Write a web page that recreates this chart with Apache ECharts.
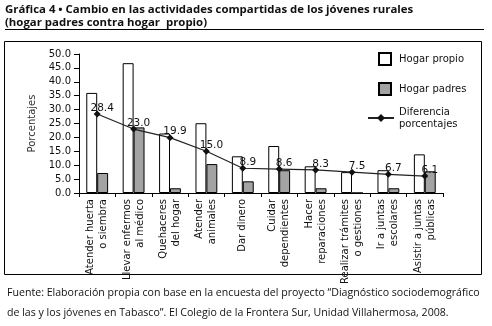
<!DOCTYPE html>
<html><head><meta charset="utf-8">
<script src="https://cdn.jsdelivr.net/npm/echarts@6/dist/echarts.min.js"></script>
<style>html,body{margin:0;padding:0;background:#fff}#c{width:492px;height:326px}</style>
</head><body><div id="c"></div>
<script>
var categories = ["Atender huerta\no siembra","Llevar enfermos\nal médico","Quehaceres\ndel hogar","Atender\nanimales","Dar dinero","Cuidar\ndependientes","Hacer\nreparaciones","Realizar trámites\no gestiones","Ir a juntas\nescolares","Asistir a juntas\npúblicas"];
var hogarPropio = [36.0, 46.7, 21.4, 25.1, 13.2, 16.9, 9.6, 7.5, 8.2, 13.9];
var hogarPadres = [7.2, 23.6, 1.7, 10.4, 4.2, 8.2, 1.7, 0, 1.7, 7.8];
var diferencia = [28.4, 23.0, 19.9, 15.0, 8.9, 8.6, 8.3, 7.5, 6.7, 6.1];
var yTicks = {min: 0, max: 50, interval: 5};

var chart = echarts.init(document.getElementById('c'), null, {renderer: 'canvas'});
var F = 'DejaVu Sans';
chart.setOption({
  animation: false,
  backgroundColor: '#fff',
  graphic: [
    {type: 'text', left: 5, top: 3, style: {text: 'Gráfica 4 • Cambio en las actividades compartidas de los jóvenes rurales\n(hogar padres contra hogar  propio)', font: 'bold 11.4px "Open Sans"', fill: '#111', lineHeight: 13}},
    {type: 'line', shape: {x1: 5, y1: 29.5, x2: 484, y2: 29.5}, style: {stroke: '#000', lineWidth: 1}},
    {type: 'rect', shape: {x: 4.5, y: 41.5, width: 477, height: 233}, style: {fill: 'none', stroke: '#000', lineWidth: 1}},
    {type: 'text', left: 7, top: 283, style: {text: 'Fuente: Elaboración propia con base en la encuesta del proyecto “Diagnóstico sociodemográfico\nde las y los jóvenes en Tabasco”. El Colegio de la Frontera Sur, Unidad Villahermosa, 2008.', font: '10.6px "Open Sans"', fill: '#111', lineHeight: 20}}
  ],
  legend: [
    {data: [{name: 'Hogar propio', icon: 'rect'}, {name: 'Hogar padres', icon: 'rect'}], orient: 'vertical', left: 373, top: 47, itemWidth: 12, itemHeight: 12, itemGap: 16,
     textStyle: {fontFamily: F, fontSize: 10, color: '#111', padding: [0, 0, 0, 3]}},
    {data: ['Diferencia\nporcentajes'], orient: 'vertical', left: 362, top: 101, itemWidth: 26, itemHeight: 10,
     textStyle: {fontFamily: F, fontSize: 10, color: '#111', lineHeight: 12}}
  ],
  grid: {left: 79, right: 49, top: 54, bottom: 133},
  xAxis: {
    type: 'category', data: categories,
    axisLine: {lineStyle: {color: '#000', width: 1}},
    axisTick: {show: true, length: 4, lineStyle: {color: '#000'}},
    axisLabel: {rotate: 90, interval: 0, margin: 6, fontFamily: F, fontSize: 10, color: '#111', lineHeight: 13}
  },
  yAxis: {
    type: 'value', min: yTicks.min, max: yTicks.max, interval: yTicks.interval,
    name: 'Porcentajes', nameLocation: 'middle', nameGap: 40,
    nameTextStyle: {fontFamily: F, fontSize: 10, color: '#333'},
    axisLine: {show: true, lineStyle: {color: '#000', width: 1}},
    axisTick: {show: true, length: 5, lineStyle: {color: '#000'}},
    splitLine: {show: false},
    axisLabel: {margin: 8, fontFamily: F, fontSize: 10, color: '#111', formatter: function(v){return v.toFixed(1);}}
  },
  series: [
    {name: 'Hogar propio', type: 'bar', data: hogarPropio, barGap: '0%', barCategoryGap: '40%',
     itemStyle: {color: '#fff', borderColor: '#000', borderWidth: 1}},
    {name: 'Hogar padres', type: 'bar', data: hogarPadres,
     itemStyle: {color: '#a3a3a3', borderColor: '#000', borderWidth: 1}},
    {name: 'Diferencia\nporcentajes', type: 'line', data: diferencia, symbol: 'diamond', symbolSize: 7, z: 5,
     lineStyle: {color: '#222', width: 1.2}, itemStyle: {color: '#111'},
     label: {show: true, position: 'top', distance: 0, offset: [5, 3], fontFamily: F, fontSize: 10.5, color: '#111', formatter: function(p){return p.value.toFixed(1);}}}
  ]
});
</script></body></html>
